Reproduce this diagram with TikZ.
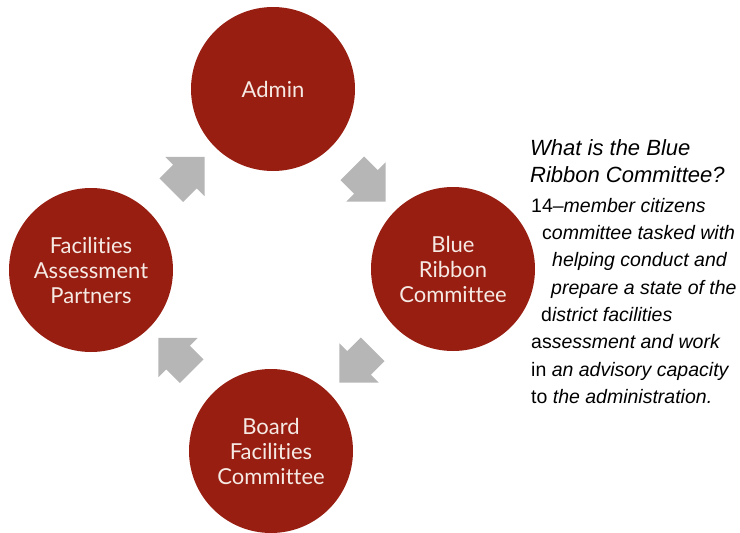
\documentclass[tikz,border=0pt]{standalone}
\usepackage{fontspec}
\setmainfont{Liberation Sans}
\newfontfamily\stagefont[Ligatures=NoCommon]{Lato}
\usepackage{tikz}
\usetikzlibrary{shapes.arrows,calc}
\definecolor{ribbonred}{RGB}{152,30,18}
\definecolor{arrowgray}{RGB}{182,182,182}
\definecolor{paletext}{RGB}{246,234,228}

\begin{document}
\begin{tikzpicture}[x=1pt,y=-1pt,
stage/.style={circle,fill=ribbonred,minimum size=164pt,inner sep=0pt,
  text=paletext,align=center,font=\stagefont\fontsize{22}{25}\selectfont},
flow/.style={single arrow,fill=arrowgray,inner xsep=0pt,inner ysep=16.5pt,
  minimum height=47pt,minimum width=0pt,single arrow head extend=11pt}]
\useasboundingbox(0,0)rectangle(740,533);
\node[stage](admin)at(273,89){Admin};
\node[stage](blue)at(453,269){Blue\\Ribbon\\Committee};
\node[stage](board)at(271,451){Board\\Facilities\\Committee};
\node[stage](fap)at(91,270){Facilities\\Assessment\\Partners};
\node[flow,rotate=-45](ab)at($(admin)!0.5!(blue)$){};
\node[flow,rotate=-135](bb)at($(blue)!0.5!(board)$){};
\node[flow,rotate=135](bf)at($(board)!0.5!(fap)$){};
\node[flow,rotate=45](fa)at($(fap)!0.5!(admin)$){};
\node[anchor=north west,inner sep=0pt,align=left,
  font=\fontsize{22}{27}\selectfont\itshape](question)at(530,139)
  {What is the Blue\\Ribbon Committee?};
\node[anchor=north west,inner sep=0pt,align=left,
  font=\fontsize{19.5}{27.3}\selectfont\itshape](answer)at(531,198)
  {{\upshape 14}--member citizens\\
  \hspace*{11pt}{\upshape c}ommittee tasked with\\
  \hspace*{21pt}helping conduct and\\
  \hspace*{20pt}prepare a state of the\\
  \hspace*{10pt}{\upshape d}istrict facilities\\
  {\upshape as}sessment and work\\
  {\upshape in} an advisory capacity\\
  {\upshape to} the administration.};
\end{tikzpicture}
\end{document}
